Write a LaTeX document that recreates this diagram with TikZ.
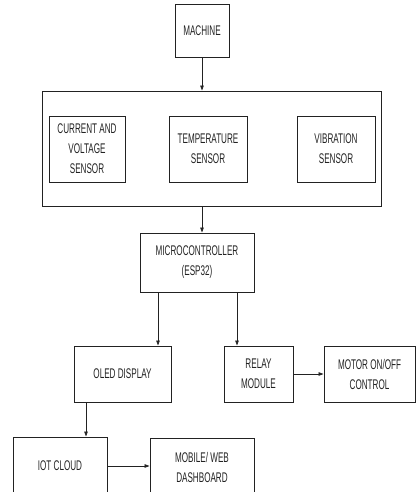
\documentclass[tikz,border=0pt]{standalone}
\usepackage{fontspec}
\setmainfont{Liberation Sans}[FakeStretch=0.58]
\usetikzlibrary{arrows.meta}
\definecolor{ink}{HTML}{222222}
\tikzset{
  blk/.style={draw=ink, line width=0.9pt, text=ink, align=center, inner sep=0pt,
    font=\fontsize{14}{20}\selectfont},
  arr/.style={draw=ink, line width=0.8pt, -{Triangle[length=5pt,width=3.5pt]}}
}
\begin{document}
\begin{tikzpicture}[x=1pt,y=-1pt]
\useasboundingbox (0,0) rectangle (416,492);
\clip (0,0) rectangle (416,492);
\node[blk, minimum width=54pt, minimum height=53pt] (machine) at (202,30.5) {MACHINE};
\node[blk, minimum width=339pt, minimum height=115pt] (big) at (211.5,148.5) {};
\node[blk, minimum width=76pt, minimum height=66pt] (cv) at (87,149) {CURRENT AND\\VOLTAGE\\SENSOR};
\node[blk, minimum width=78pt, minimum height=66pt] (temp) at (208,149) {TEMPERATURE\\SENSOR};
\node[blk, minimum width=78pt, minimum height=66pt] (vib) at (336,149) {VIBRATION\\SENSOR};
\node[blk, minimum width=114pt, minimum height=59pt] (micro) at (197,262.5) {MICROCONTROLLER\\(ESP32)};
\node[blk, minimum width=97pt, minimum height=56pt] (oled) at (122.5,374) {OLED DISPLAY};
\node[blk, minimum width=69pt, minimum height=56pt] (relay) at (258.5,374) {RELAY\\MODULE};
\node[blk, minimum width=91pt, minimum height=56pt] (motor) at (369.5,374) {MOTOR ON/OFF\\CONTROL};
\node[blk, minimum width=94pt, minimum height=58pt] (iot) at (60,466) {IOT CLOUD};
\node[blk, minimum width=104pt, minimum height=58pt] (mobile) at (202,467) {MOBILE/ WEB\\DASHBOARD};
\coordinate (cx) at (202,0);
\coordinate (lx) at (158,0);
\coordinate (rx) at (237,0);
\coordinate (ox) at (86,0);
\draw[arr] (machine.south) -- (big.north -| machine);
\draw[arr] (big.south -| cx) -- (micro.north -| cx);
\draw[arr] (micro.south -| lx) -- (oled.north -| lx);
\draw[arr] (micro.south -| rx) -- (relay.north -| rx);
\draw[arr] (relay.east) -- (motor.west);
\draw[arr] (oled.south -| ox) -- (iot.north -| ox);
\draw[arr] (iot.east) -- (mobile.west |- iot.east);
\end{tikzpicture}
\end{document}
